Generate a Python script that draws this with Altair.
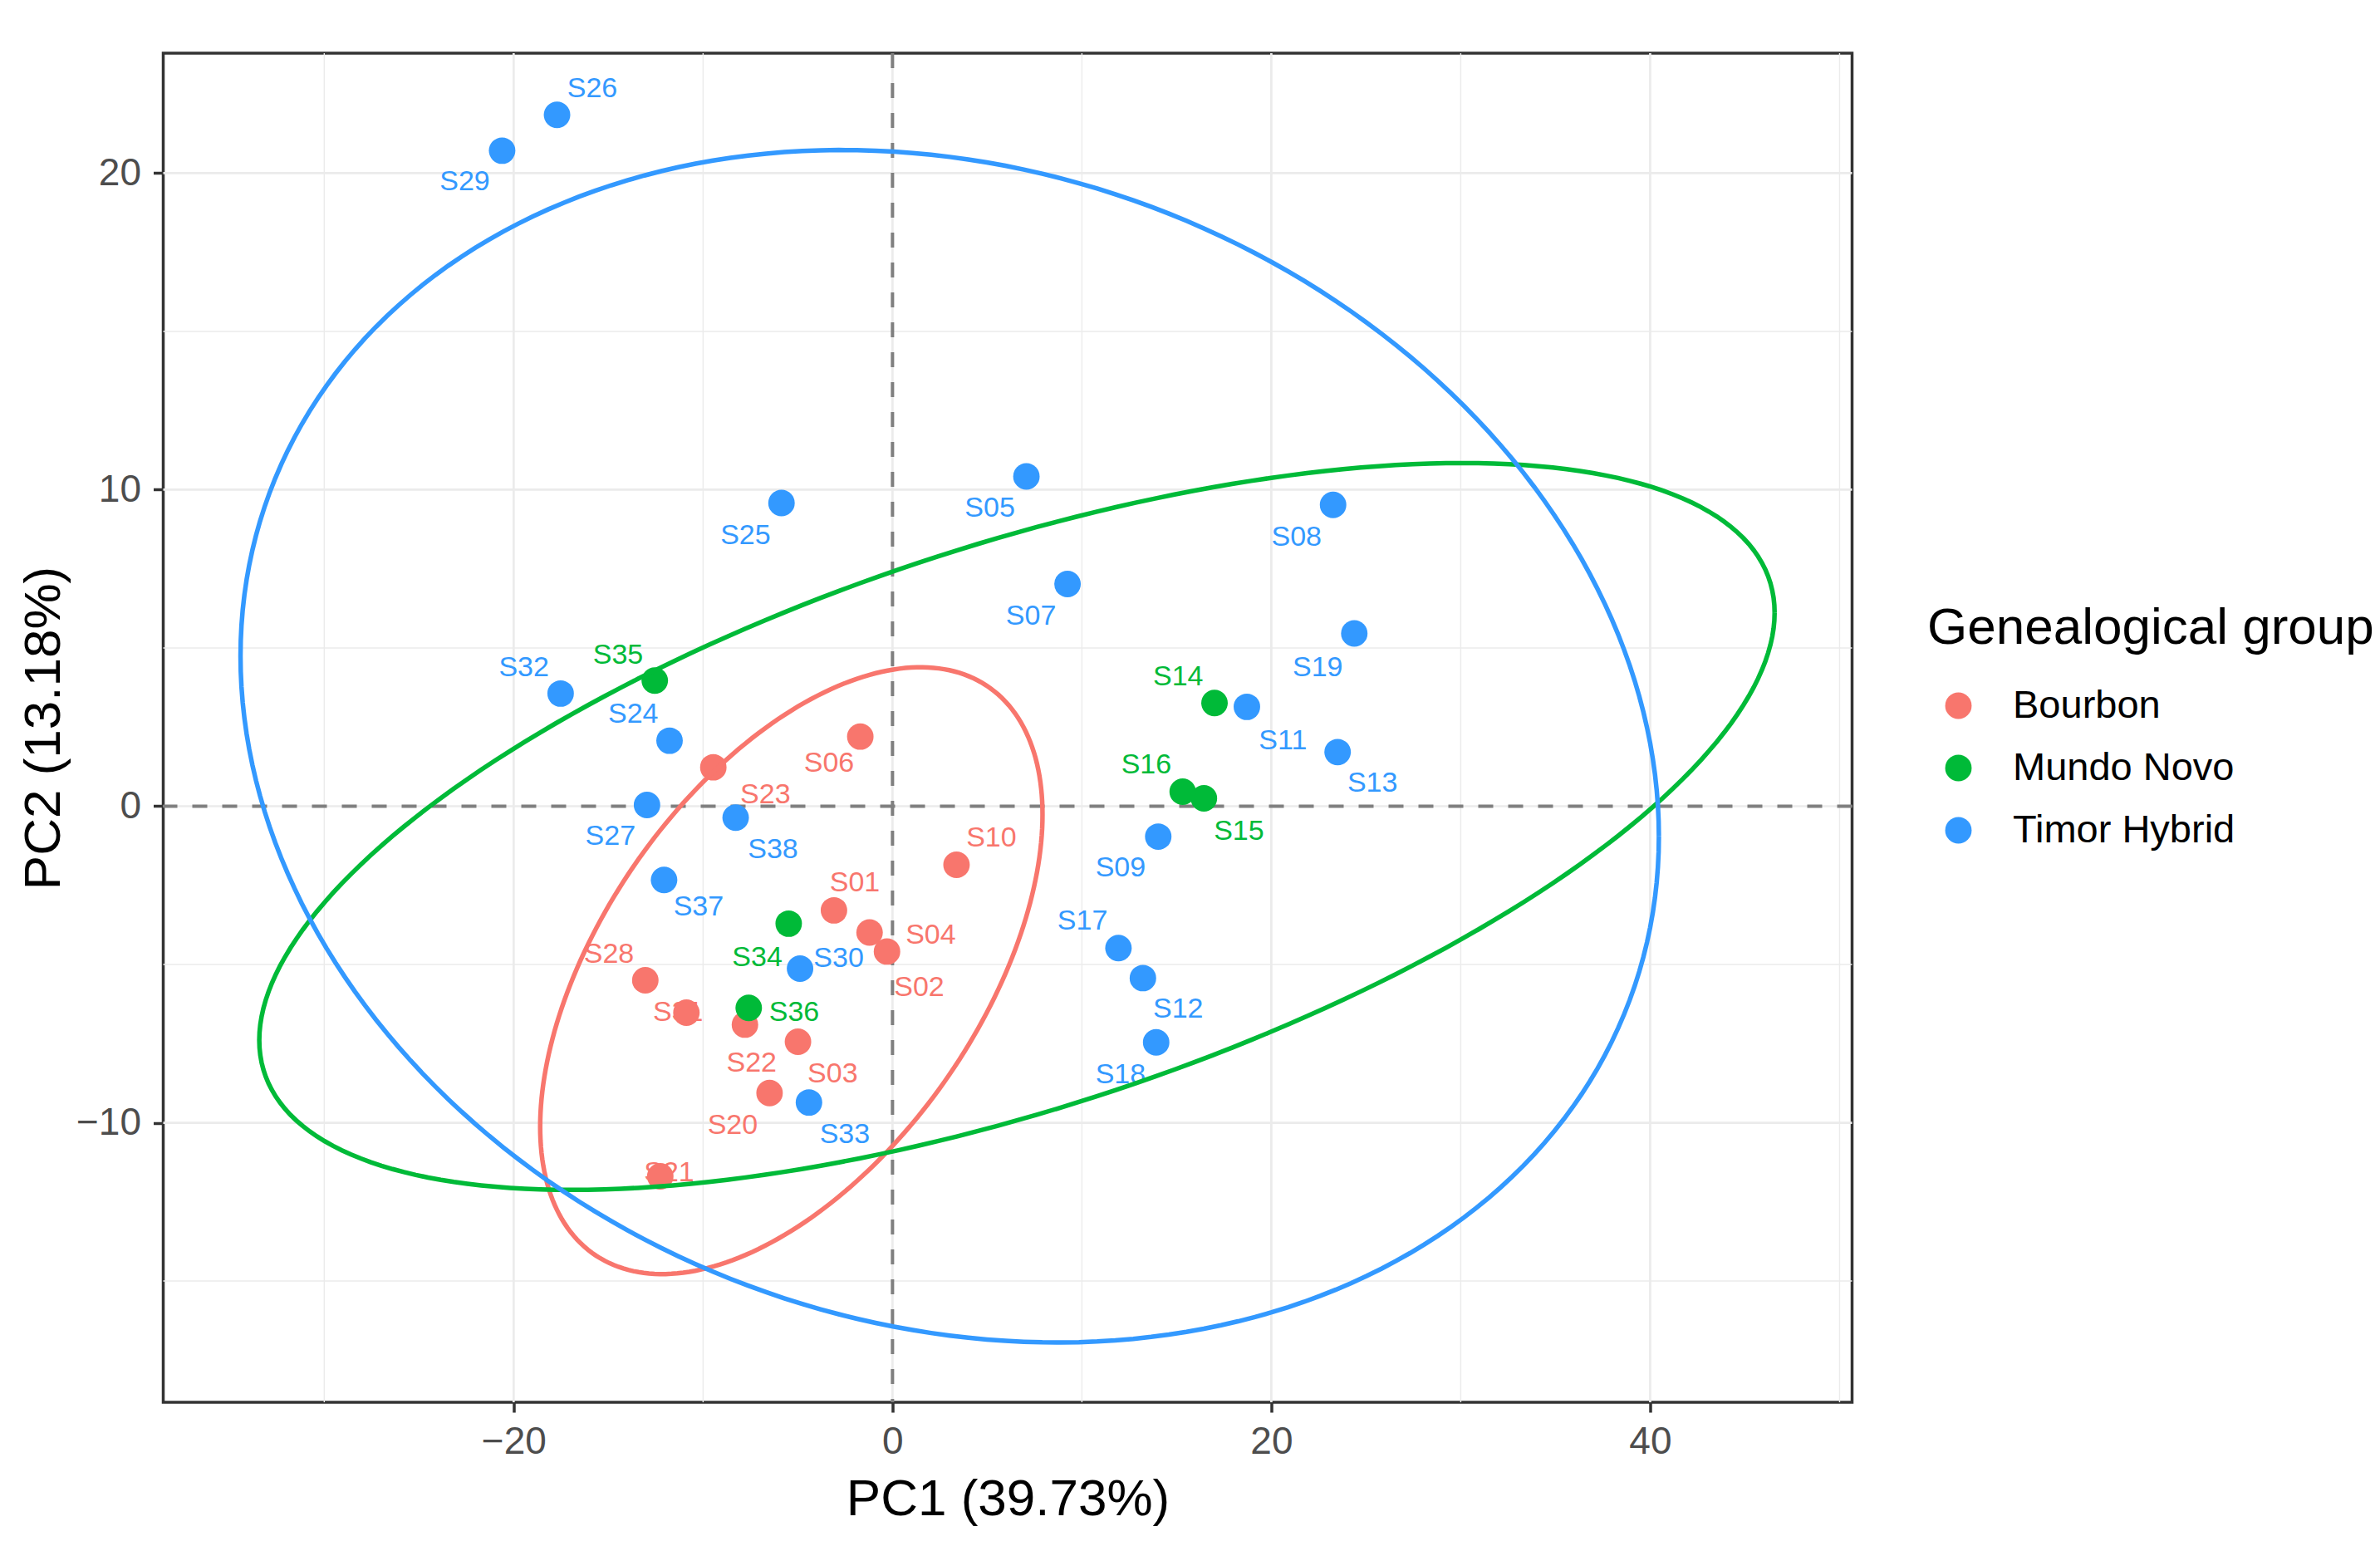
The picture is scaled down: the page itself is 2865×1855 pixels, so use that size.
import numpy as np
import pandas as pd
import altair as alt

FONT = "Liberation Sans"

# Genealogical groups and their colours
groups = ["Bourbon", "Mundo Novo", "Timor Hybrid"]
colours = ["#F8766D", "#00BA38", "#3399FF"]

# Individual scores on PC1 / PC2
sample_id = [
    "S01", "S02", "S03", "S04", "S05", "S06", "S07", "S08", "S09", "S10",
    "S11", "S12", "S13", "S14", "S15", "S16", "S17", "S18", "S19", "S20",
    "S21", "S22", "S23", "S24", "S25", "S26", "S27", "S28", "S29", "S30",
    "S31", "S32", "S33", "S34", "S35", "S36", "S37", "S38",
]
sample_group = [
    "Bourbon", "Bourbon", "Bourbon", "Bourbon", "Timor Hybrid", "Bourbon",
    "Timor Hybrid", "Timor Hybrid", "Timor Hybrid", "Bourbon",
    "Timor Hybrid", "Timor Hybrid", "Timor Hybrid", "Mundo Novo", "Mundo Novo",
    "Mundo Novo", "Timor Hybrid", "Timor Hybrid", "Timor Hybrid", "Bourbon",
    "Bourbon", "Bourbon", "Bourbon", "Timor Hybrid", "Timor Hybrid",
    "Timor Hybrid", "Timor Hybrid", "Bourbon", "Timor Hybrid", "Timor Hybrid",
    "Bourbon", "Timor Hybrid", "Timor Hybrid", "Mundo Novo", "Mundo Novo",
    "Mundo Novo", "Timor Hybrid", "Timor Hybrid",
]
pc1 = [
    -3.09, -0.29, -4.99, -1.21, 7.07, -1.70, 9.24, 23.26, 14.03, 3.38,
    18.71, 13.22, 23.50, 17.00, 16.44, 15.32, 11.93, 13.92, 24.38, -6.49,
    -12.26, -7.79, -9.46, -11.77, -5.86, -17.71, -12.96, -13.05, -20.61, -4.88,
    -10.88, -17.52, -4.41, -5.48, -12.55, -7.59, -12.06, -8.28,
]
pc2 = [
    -3.29, -4.59, -7.44, -3.99, 10.42, 2.20, 7.02, 9.52, -0.96, -1.85,
    3.14, -5.43, 1.71, 3.26, 0.25, 0.46, -4.48, -7.46, 5.46, -9.06,
    -11.69, -6.90, 1.23, 2.07, 9.58, 21.84, 0.04, -5.50, 20.71, -5.13,
    -6.52, 3.56, -9.36, -3.71, 3.97, -6.37, -2.33, -0.36,
]
# Repelled label anchors, in PC units
label_pc1 = [
    -1.99, 1.41, -3.16, 2.02, 5.14, -3.35, 7.31, 21.33, 12.04, 5.22,
    20.61, 15.08, 25.34, 15.08, 18.29, 13.40, 10.03, 12.04, 22.45, -8.44,
    -11.79, -7.44, -6.71, -13.69, -7.76, -15.85, -14.89, -14.97, -22.58, -2.84,
    -11.32, -19.46, -2.52, -7.14, -14.49, -5.19, -10.24, -6.31,
]
label_pc2 = [
    -2.44, -5.73, -8.47, -4.07, 9.41, 1.35, 6.00, 8.50, -1.96, -1.00,
    2.07, -6.42, 0.73, 4.08, -0.81, 1.31, -3.63, -8.48, 4.38, -10.08,
    -11.58, -8.12, 0.35, 2.89, 8.54, 22.65, -0.95, -4.69, 19.71, -4.82,
    -6.53, 4.38, -10.38, -4.79, 4.77, -6.51, -3.20, -1.38,
]

# Concentration ellipses per group: centre, half extents along PC1/PC2, correlation
ell_cx = [-5.34, 6.57, 3.02]
ell_cy = [-5.195, -0.64, 1.895]
ell_half_w = [13.26, 40.0, 37.44]
ell_half_h = [9.585, 11.48, 18.835]
ell_rho = [0.5146, 0.588, -0.1513]

# Axis breaks and panel range
major_x = [-20, 0, 20, 40]
minor_x = [-30, -10, 10, 30, 50]
major_y = [-10, 0, 10, 20]
minor_y = [-15, -5, 5, 15]
x_range = [-38.5, 50.66]
y_range = [-18.83, 23.79]

colour_of = dict(zip(groups, colours))

scores = pd.DataFrame({
    "id": sample_id, "group": sample_group, "PC1": pc1, "PC2": pc2,
    "lab1": label_pc1, "lab2": label_pc2,
})
scores["colour"] = scores["group"].map(colour_of)

rows = []
t = np.linspace(0, 2 * np.pi, 241)
for g, cx, cy, hw, hh, r in zip(groups, ell_cx, ell_cy, ell_half_w, ell_half_h, ell_rho):
    ex = cx + hw * np.cos(t)
    ey = cy + hh * (r * np.cos(t) + np.sqrt(1 - r * r) * np.sin(t))
    for i, (a, b) in enumerate(zip(ex, ey)):
        rows.append({"group": g, "colour": colour_of[g], "i": i, "PC1": a, "PC2": b})
ellipses = pd.DataFrame(rows)

xs = alt.Scale(domain=x_range, nice=False, zero=False)
ys = alt.Scale(domain=y_range, nice=False, zero=False)
cs = alt.Scale(domain=groups, range=colours)

axis_common = dict(
    grid=False, domain=False, tickColor="#333333", tickWidth=3.5, tickSize=12,
    labelFont=FONT, labelFontSize=46, labelColor="#4D4D4D", labelFlush=False,
    titleFont=FONT, titleFontSize=62, titleFontWeight="normal", titleColor="black",
)
x_axis = alt.Axis(values=major_x, title="PC1 (39.73%)", labelPadding=13, titlePadding=16, **axis_common)
y_axis = alt.Axis(values=major_y, title="PC2 (13.18%)", labelPadding=15, titlePadding=7, **axis_common)


def X(field):
    return alt.X(field, type="quantitative", scale=xs, axis=x_axis)


def Y(field):
    return alt.Y(field, type="quantitative", scale=ys, axis=y_axis)


def vrules(values, **mark):
    return alt.Chart(pd.DataFrame({"PC1": values})).mark_rule(**mark).encode(x=X("PC1"))


def hrules(values, **mark):
    return alt.Chart(pd.DataFrame({"PC2": values})).mark_rule(**mark).encode(y=Y("PC2"))


grid = (
    vrules(minor_x, color="#EBEBEB", strokeWidth=1.4)
    + hrules(minor_y, color="#EBEBEB", strokeWidth=1.4)
    + vrules(major_x, color="#EBEBEB", strokeWidth=2.7)
    + hrules(major_y, color="#EBEBEB", strokeWidth=2.7)
)
zero_lines = (
    vrules([0], color="#7F7F7F", strokeWidth=4, strokeDash=[18, 18])
    + hrules([0], color="#7F7F7F", strokeWidth=4, strokeDash=[18, 18])
)

labels = alt.Chart(scores).mark_text(font=FONT, fontSize=34, align="center", baseline="middle").encode(
    x=X("lab1"),
    y=Y("lab2"),
    text="id:N",
    color=alt.Color("colour:N", scale=None),
)

points = alt.Chart(scores).mark_circle(size=1018, opacity=1).encode(
    x=X("PC1"),
    y=Y("PC2"),
    color=alt.Color("group:N", scale=cs, legend=alt.Legend(
        title="Genealogical group", orient="none", legendX=2123.5, legendY=662,
        titleFont=FONT, titleFontSize=62, titleFontWeight="normal", titleColor="black",
        titlePadding=38, titleLimit=0, labelLimit=0,
        labelFont=FONT, labelFontSize=47, labelColor="black",
        symbolType="circle", symbolSize=1018, symbolStrokeWidth=0, symbolOpacity=1,
        symbolOffset=14, labelOffset=42, rowPadding=27, padding=0,
    )),
)

rings = alt.Chart(ellipses).mark_line(strokeWidth=5.5).encode(
    x=X("PC1"),
    y=Y("PC2"),
    color=alt.Color("colour:N", scale=None),
    detail="group:N",
    order="i:Q",
)

chart = alt.layer(grid, zero_lines, labels, points, rings).properties(
    width=2033, height=1624,
    autosize=alt.AutoSizeParams(type="none"),
    padding={"left": 196.5, "top": 64, "right": 635.5, "bottom": 167},
    background="white",
).configure_view(stroke="#333333", strokeWidth=3.5)

chart.save("out.html", embed_options={"renderer": "svg", "actions": False})
